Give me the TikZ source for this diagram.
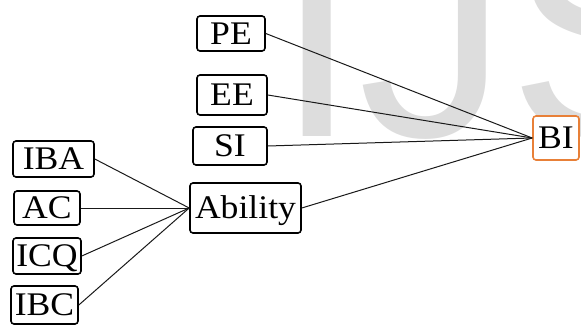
\documentclass[tikz,border=0pt]{standalone}
\usepackage{fontspec}
\setmainfont{Liberation Serif}[FakeStretch=1.08]
\newfontfamily\wmfont{Liberation Sans}
\definecolor{wm}{RGB}{221,221,221}
\definecolor{biorange}{RGB}{232,128,56}
\begin{document}
\begin{tikzpicture}[x=1pt,y=-1pt,
  box/.style={draw=black, fill=white, line width=1.6pt, rounded corners=3pt,
    inner sep=0pt, text height=21.8pt, text depth=0pt,
    font=\fontsize{33}{33}\selectfont},
  link/.style={draw=black!90, line width=1pt}]
\useasboundingbox (0,0) rectangle (581,326);
\begin{scope}
  \clip (0,0) rectangle (581,326);
  \node[anchor=base west, inner sep=0pt, text=wm,
    font=\wmfont\fontsize{300}{300}\selectfont] (wmark) at (275,137) {IJS};
\end{scope}
% left group
\node[box, minimum width=81pt, minimum height=36pt] (iba) at (53.5,159) {IBA};
\node[box, minimum width=66pt, minimum height=34pt] (ac) at (47,208) {AC};
\node[box, minimum width=68pt, minimum height=36pt] (icq) at (47,256) {ICQ};
\node[box, minimum width=67pt, minimum height=38pt] (ibc) at (44.5,305) {IBC};
\node[box, minimum width=111pt, minimum height=50pt] (ab) at (245.5,208) {Ability};
% upper group
\node[box, minimum width=68pt, minimum height=35pt] (pe) at (231,33.5) {PE};
\node[box, minimum width=70pt, minimum height=40pt] (ee) at (232,95) {EE};
\node[box, minimum width=74pt, minimum height=38pt] (si) at (230,146) {SI};
\node[box, draw=biorange, minimum width=46pt, minimum height=44pt] (bi) at (556,138) {BI};
% connectors
\draw[link] (iba.east) -- (ab.west);
\draw[link] (ac.east) -- (ab.west);
\draw[link] (icq.east) -- (ab.west);
\draw[link] (ibc.east) -- (ab.west);
\draw[link] (pe.east) -- (bi.west);
\draw[link] (ee.east) -- (bi.west);
\draw[link] (si.east) -- (bi.west);
\draw[link] (ab.east) -- (bi.west);
\end{tikzpicture}
\end{document}
